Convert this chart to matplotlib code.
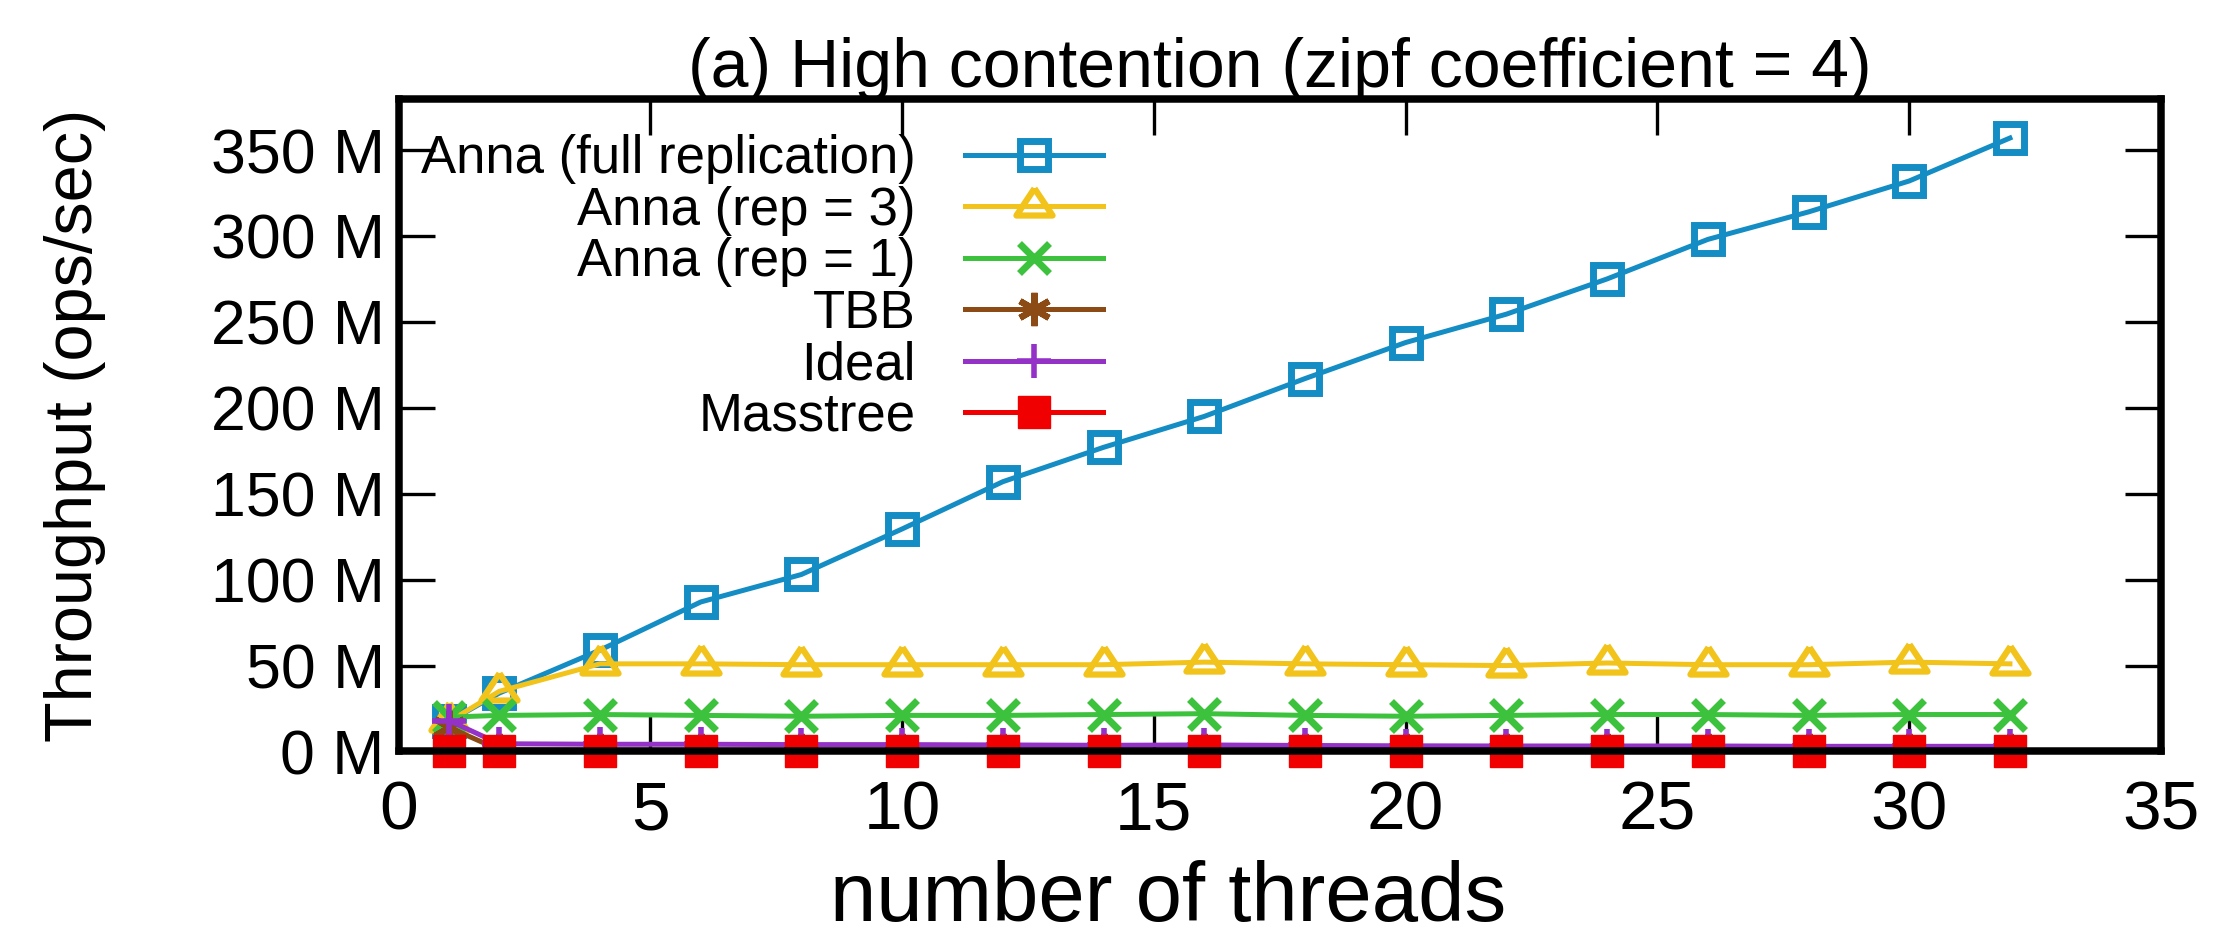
import matplotlib
matplotlib.use("Agg")
import matplotlib.pyplot as plt
from matplotlib.ticker import FixedLocator, FuncFormatter

plt.rcParams['font.family'] = ['Liberation Sans', 'DejaVu Sans']

# Thread counts and throughput in millions of ops/sec
threads = [1, 2, 4, 6, 8, 10, 12, 14, 16, 18, 20, 22, 24, 26, 28, 30, 32]
anna_full = [17.5, 34, 59, 87, 103, 129.5, 157, 177, 195, 217, 238, 254.5, 275, 298, 314, 332, 357]
anna_rep3 = [17.5, 35, 51, 51, 50.5, 50.5, 50.5, 50.5, 52, 51, 50.5, 50, 51.5, 50.5, 50.5, 52, 51]
anna_rep1 = [20, 21, 21.5, 21, 20.5, 21, 21, 21.5, 22, 21, 20.5, 21, 21.5, 21.5, 21, 21.5, 21.5]
tbb = [14, 1.0, 0.8, 0.8, 0.8, 0.8, 0.8, 0.8, 0.8, 0.8, 0.8, 0.8, 0.8, 0.8, 0.8, 0.8, 0.8]
ideal = [18, 4.5, 4.2, 4.2, 4.0, 4.0, 3.8, 3.6, 3.8, 3.5, 3.3, 3.2, 3.2, 3.2, 3.0, 3.0, 3.0]
masstree = [0.5] * 17

x_ticks = [0, 5, 10, 15, 20, 25, 30, 35]
y_ticks = [0, 50, 100, 150, 200, 250, 300, 350]

fig = plt.figure(figsize=(22.18, 9.39), dpi=100)
ax = fig.add_axes([0.1797, 0.1997, 0.7946, 0.6954])

# wide open triangle with the data point at its centroid
tri = [(0, 1.0), (-1.0, -0.5), (1.0, -0.5), (0, 1.0)]

lw = 3.6
series = [
    ("Anna (full replication)", anna_full, "#148cc4", dict(marker="s", ms=20.5, mew=5.0, mfc="none")),
    ("Anna (rep = 3)", anna_rep3, "#f2c31a", dict(marker=tri, ms=26, mew=4.5, mfc="none")),
    ("Anna (rep = 1)", anna_rep1, "#3cc23c", dict(marker="x", ms=22, mew=5.0)),
    ("TBB", tbb, "#8c4a14", dict(marker=(6, 2, 0), ms=24, mew=4.5)),
    ("Ideal", ideal, "#9432c8", dict(marker="+", ms=24, mew=4.0)),
    ("Masstree", masstree, "#f00000", dict(marker="s", ms=23, mew=1.0)),
]
for label, vals, color, mk in series:
    ax.plot(threads, vals, color=color, lw=lw, label=label, clip_on=False,
            mec=color, **mk)

ax.set_xlim(0, 35)
ax.set_ylim(0, 380)
ax.xaxis.set_major_locator(FixedLocator(x_ticks))
ax.yaxis.set_major_locator(FixedLocator(y_ticks))
ax.yaxis.set_major_formatter(FuncFormatter(lambda v, p: f"{int(v)} M"))

for sp in ax.spines.values():
    sp.set_linewidth(5.4)
    sp.set_zorder(10)

ax.tick_params(direction="in", length=26, width=2.4, top=True, right=True)
ax.tick_params(axis="x", labelsize=50, pad=20)
ax.tick_params(axis="y", labelsize=45, pad=10)

ax.set_title("(a) High contention (zipf coefficient = 4)", fontsize=49, pad=8)
ax.set_xlabel("number of threads", fontsize=60, va="center")
ax.xaxis.set_label_coords(0.4366, -0.226)
ax.set_ylabel("Throughput (ops/sec)", fontsize=48)
ax.yaxis.set_label_coords(-0.166, 0.5)

leg = ax.legend(loc="upper left", bbox_to_anchor=(0.0128, 0.9456), frameon=False,
                markerfirst=False, fontsize=38, handlelength=2.6,
                handletextpad=0.94, labelspacing=0.03, borderpad=0,
                borderaxespad=0)

fig.savefig("out.png", dpi=100)
